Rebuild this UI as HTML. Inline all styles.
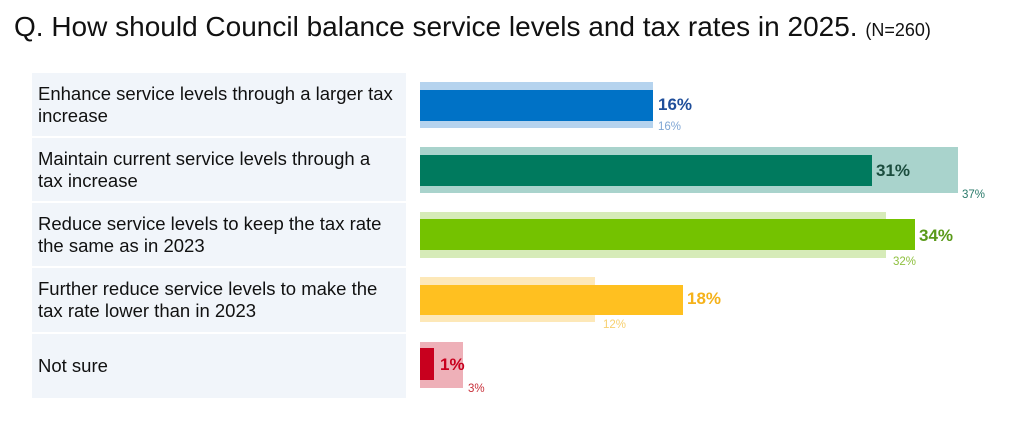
<!DOCTYPE html><html><head><style>
body{margin:0;width:1020px;height:431px;background:#fff;font-family:"Liberation Sans",sans-serif;position:relative;overflow:hidden}
.a{position:absolute}
.p{position:absolute;left:32px;width:374px;background:#f1f5fa;display:flex;align-items:center;padding-left:6px;box-sizing:border-box;font-size:18.5px;line-height:22px;color:#111;white-space:nowrap}
.b{position:absolute;left:420px}
.l{position:absolute;font-weight:bold;font-size:17px}
.s{position:absolute;font-size:11.5px}
</style></head><body>
<div class="a" style="left:14px;top:11px;font-size:28px;color:#111;white-space:nowrap">Q. How should Council balance service levels and tax rates in 2025. <span style="font-size:18px">(N=260)</span></div>
<div class="p" style="top:73px;height:63px">Enhance service levels through a larger tax<br>increase</div>
<div class="p" style="top:138px;height:63px">Maintain current service levels through a<br>tax increase</div>
<div class="p" style="top:203px;height:63px">Reduce service levels to keep the tax rate<br>the same as in 2023</div>
<div class="p" style="top:268px;height:64px">Further reduce service levels to make the<br>tax rate lower than in 2023</div>
<div class="p" style="top:334px;height:64px">Not sure</div>

<div class="b" style="top:82px;height:46px;width:233px;background:#b5d3ee"></div>
<div class="b" style="top:90px;height:31px;width:233px;background:#0072c6"></div>
<div class="l" style="left:658px;top:95px;color:#1f4e9a">16%</div>
<div class="s" style="left:658px;top:121px;color:#7fa6d4">16%</div>

<div class="b" style="top:147px;height:46px;width:538px;background:#a9d3cc"></div>
<div class="b" style="top:155px;height:31px;width:452px;background:#007a5e"></div>
<div class="l" style="left:876px;top:161px;color:#1b4d3e">31%</div>
<div class="s" style="left:962px;top:189px;color:#2a7a6a">37%</div>

<div class="b" style="top:212px;height:46px;width:466px;background:#d6ebb8"></div>
<div class="b" style="top:219px;height:31px;width:495px;background:#74c200"></div>
<div class="l" style="left:919px;top:226px;color:#5a9a1a">34%</div>
<div class="s" style="left:893px;top:256px;color:#8fc040">32%</div>

<div class="b" style="top:277px;height:45px;width:175px;background:#fde8b8"></div>
<div class="b" style="top:285px;height:30px;width:263px;background:#ffc020"></div>
<div class="l" style="left:687px;top:289px;color:#f5b21a">18%</div>
<div class="s" style="left:603px;top:319px;color:#f7d070">12%</div>

<div class="b" style="top:342px;height:46px;width:43px;background:#eeb0b8"></div>
<div class="b" style="top:348px;height:32px;width:14px;background:#c8001e"></div>
<div class="l" style="left:440px;top:355px;color:#c8001e">1%</div>
<div class="s" style="left:468px;top:383px;color:#c8303a">3%</div>
</body></html>
